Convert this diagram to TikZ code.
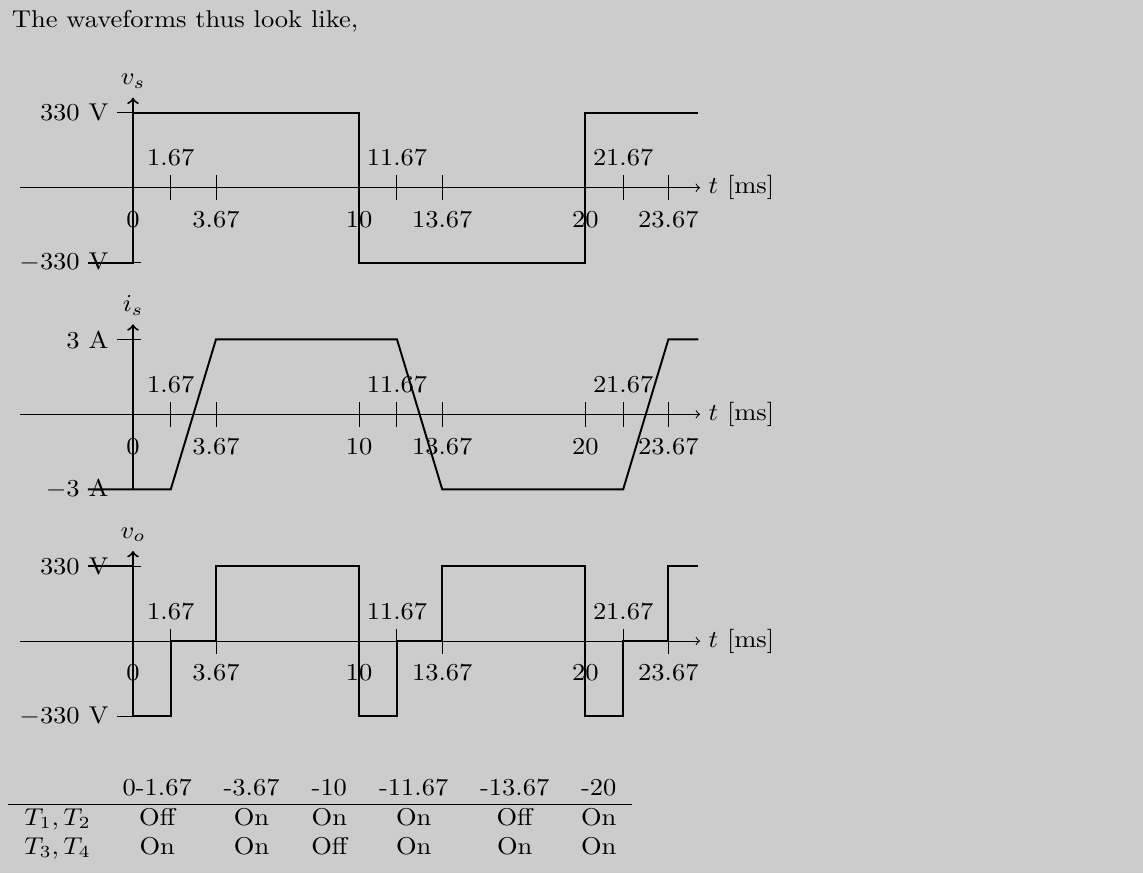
\documentclass[tikz,border=0pt]{standalone}
\usepackage{graphicx}
\newcommand\stx[1]{\scalebox{1.09}[1]{#1}}
\begin{document}
\begin{tikzpicture}[x=0.4115pt,y=-0.4115pt,
  wave/.style={thick},
  yax/.style={thick,->},
  xax/.style={->},
  lab/.style={anchor=base, inner sep=0pt},
  plotunits/.style={x=9.308pt, y=30.86pt}]
\fill[gray!40] (0,0) rectangle (1143,873);
\useasboundingbox (0,0) rectangle (1143,873);
\node[anchor=base west, inner sep=0pt] (intro) at (11.5,27) {\stx{The waveforms thus look like,}};

% ---------- v_s ----------
\begin{scope}[shift={(133,187.7)}, plotunits]
  \coordinate (xa1) at (-5,0); \coordinate (xb1) at (25.07,0);
  \coordinate (ya1) at (0,-1); \coordinate (yb1) at (0,1.2);
  \draw[xax] (xa1) -- (xb1) node[right] (tl1) {\stx{$t$ [ms]}};
  \foreach \tm in {0,1.67,3.67,10,11.67,13.67,20,21.67,23.67} \draw (\tm,-0.1667) -- (\tm,0.1667);
  \foreach \tm in {1.67,11.67,21.67} \node[lab] at (\tm,0.293) {\stx{\tm}};
  \foreach \tm in {0,3.67,10,13.67,20,23.67} \node[lab] at (\tm,-0.533) {\stx{\tm}};
  \draw (-0.707,1) -- (0.354,1); \draw (-0.707,-1) -- (0.354,-1);
  \node[left] (p1) at (-0.707,1) {\stx{$330$ V}};
  \node[left] (m1) at (-0.707,-1) {\stx{$-330$ V}};
  \draw[yax] (ya1) -- (yb1) node[above] (vs) {\stx{$v_s$}};
  \draw[wave] (-2,-1) -- (0,-1) -- (0,1) -- (10,1) -- (10,-1) -- (20,-1) -- (20,1) -- (25,1);
\end{scope}

% ---------- i_s ----------
\begin{scope}[shift={(133,414.3)}, plotunits]
  \coordinate (xa2) at (-5,0); \coordinate (xb2) at (25.07,0);
  \coordinate (ya2) at (0,-1); \coordinate (yb2) at (0,1.2);
  \draw[xax] (xa2) -- (xb2) node[right] (tl2) {\stx{$t$ [ms]}};
  \foreach \tm in {0,1.67,3.67,10,11.67,13.67,20,21.67,23.67} \draw (\tm,-0.1667) -- (\tm,0.1667);
  \foreach \tm in {1.67,11.67,21.67} \node[lab] at (\tm,0.293) {\stx{\tm}};
  \foreach \tm in {0,3.67,10,13.67,20,23.67} \node[lab] at (\tm,-0.533) {\stx{\tm}};
  \draw (-0.707,1) -- (0.354,1); \draw (-0.707,-1) -- (0.354,-1);
  \node[left] (p2) at (-0.707,1) {\stx{$3$ A}};
  \node[left] (m2) at (-0.707,-1) {\stx{$-3$ A}};
  \draw[yax] (ya2) -- (yb2) node[above] (is) {\stx{$i_s$}};
  \draw[wave] (-2,-1) -- (1.67,-1) -- (3.67,1) -- (11.67,1) -- (13.67,-1) -- (21.67,-1) -- (23.67,1) -- (25,1);
\end{scope}

% ---------- v_o ----------
\begin{scope}[shift={(133,641)}, plotunits]
  \coordinate (xa3) at (-5,0); \coordinate (xb3) at (25.07,0);
  \coordinate (ya3) at (0,-1); \coordinate (yb3) at (0,1.2);
  \draw[xax] (xa3) -- (xb3) node[right] (tl3) {\stx{$t$ [ms]}};
  \foreach \tm in {0,1.67,3.67,10,11.67,13.67,20,21.67,23.67} \draw (\tm,-0.1667) -- (\tm,0.1667);
  \foreach \tm in {1.67,11.67,21.67} \node[lab] at (\tm,0.293) {\stx{\tm}};
  \foreach \tm in {0,3.67,10,13.67,20,23.67} \node[lab] at (\tm,-0.533) {\stx{\tm}};
  \draw (-0.707,1) -- (0.354,1); \draw (-0.707,-1) -- (0.354,-1);
  \node[left] (p3) at (-0.707,1) {\stx{$330$ V}};
  \node[left] (m3) at (-0.707,-1) {\stx{$-330$ V}};
  \draw[yax] (ya3) -- (yb3) node[above] (vo) {\stx{$v_o$}};
  \draw[wave] (-2,1) -- (0,1) -- (0,-1) -- (1.67,-1) -- (1.67,0) -- (3.67,0) -- (3.67,1)
    -- (10,1) -- (10,-1) -- (11.67,-1) -- (11.67,0) -- (13.67,0) -- (13.67,1)
    -- (20,1) -- (20,-1) -- (21.67,-1) -- (21.67,0) -- (23.67,0) -- (23.67,1) -- (25,1);
\end{scope}

% ---------- table ----------
\node[anchor=base west, inner sep=0pt] (tbl) at (8,795) {\stx{%
  \begin{tabular}[t]{lcccccc}
    & 0-1.67 & -3.67 & -10 & -11.67 & -13.67 & -20\\
    \hline
    $T_1,T_2$ & Off & On & On & On & Off & On\\
    $T_3,T_4$ & On & On & Off & On & On & On
  \end{tabular}}};
\end{tikzpicture}
\end{document}
